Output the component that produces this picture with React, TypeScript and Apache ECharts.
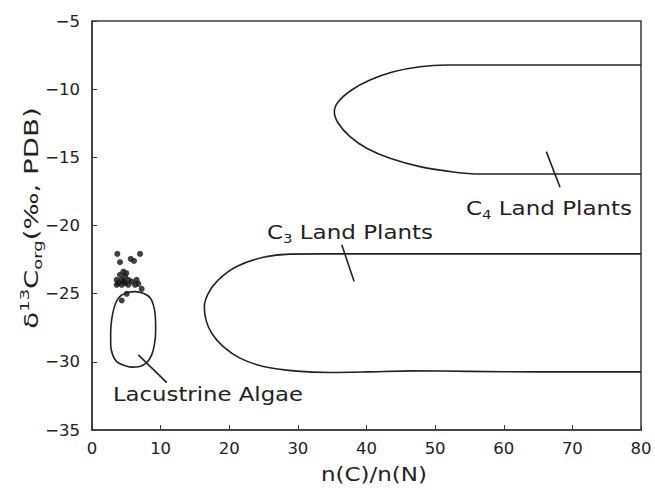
import React, { useEffect, useRef } from "react";
import * as echarts from "echarts";

// Sample points (n(C)/n(N), δ13Corg)
const algaeSamples: [number, number][] = [
  [3.69, -22.08], [4.08, -22.69], [5.64, -22.45], [6.12, -22.6], [7.0, -22.08],
  [4.57, -23.38], [4.08, -23.62], [4.81, -23.74], [3.6, -23.99], [4.33, -23.99],
  [5.3, -23.99], [3.83, -24.23], [4.81, -24.23], [5.79, -24.11], [6.5, -23.99],
  [6.27, -24.35], [4.33, -24.35], [5.3, -24.35], [3.6, -24.35], [6.75, -24.28],
  [7.24, -24.65], [5.06, -25.01], [4.33, -25.5], [5.0, -23.5], [4.6, -24.1],
];

// Field outlines
const algaeOutline: [number, number][] = [
  [5.05, -24.92], [6.27, -24.85], [7.48, -24.97], [8.45, -25.29], [8.94, -25.82],
  [9.23, -26.68], [9.28, -27.65], [9.13, -28.63], [8.7, -29.49], [7.97, -30.05],
  [6.99, -30.34], [5.78, -30.39], [4.57, -30.24], [3.59, -29.98], [3.01, -29.49],
  [2.72, -28.75], [2.72, -27.9], [2.86, -26.92], [3.21, -26.06], [3.84, -25.33],
  [5.05, -24.92],
];

const c3Outline: [number, number][] = [
  [80, -22.08], [65, -22.08], [50, -22.08], [38, -22.08], [28.85, -22.1],
  [24.97, -22.33], [21.08, -23.01], [18.41, -23.99], [16.95, -24.97], [16.37, -25.95],
  [16.61, -26.92], [17.44, -27.9], [19.13, -28.88], [21.57, -29.73], [24.97, -30.34],
  [29.83, -30.68], [34.68, -30.78], [40, -30.74], [46.8, -30.66], [55, -30.7],
  [65, -30.74], [80, -30.74],
];

const c4Outline: [number, number][] = [
  [80, -8.23], [68, -8.23], [58, -8.23], [51.69, -8.23], [47.8, -8.35],
  [43.91, -8.72], [40.51, -9.33], [37.84, -10.06], [35.89, -10.92], [35.31, -11.65],
  [35.89, -12.5], [37.6, -13.48], [40.03, -14.33], [43.42, -15.07], [47.8, -15.68],
  [52.65, -16.07], [56.54, -16.22], [64, -16.22], [72, -16.22], [80, -16.22],
];

// Leader lines
const c3Leader: [number, number][] = [[36.4, -21.42], [38.2, -24.11]];
const c4Leader: [number, number][] = [[66.2, -14.58], [68.2, -17.19]];
const algaeLeader: [number, number][] = [[6.75, -29.49], [10.9, -31.52]];

const FONT = "DejaVu Sans";
const INK = "#222";

const lineSeries = (data: [number, number][], smooth: number | boolean) => ({
  type: "line",
  data,
  showSymbol: false,
  symbol: "none",
  smooth,
  clip: true,
  lineStyle: { color: INK, width: 1.6 },
  silent: true,
});

export default function App() {
  const ref = useRef<HTMLDivElement>(null);
  useEffect(() => {
    document.body.style.margin = "0";
    const chart = echarts.init(ref.current!, undefined, { renderer: "svg" });
    const minus = (v: number) => (v < 0 ? "\u2212" + Math.abs(v) : String(v));
    chart.setOption({
      animation: false,
      backgroundColor: "#fff",
      grid: {
        left: 92, right: 14, top: 21, bottom: 60,
        show: true, borderColor: "#3a3a3a", borderWidth: 1.5,
      },
      xAxis: {
        type: "value", min: 0, max: 80, interval: 10,
        axisLine: { show: true, lineStyle: { color: "#3a3a3a", width: 1.5 } },
        axisTick: { show: true, inside: true, length: 5, lineStyle: { color: "#3a3a3a" } },
        splitLine: { show: false },
        axisLabel: { fontFamily: FONT, fontSize: 16.5, color: INK, margin: 10, formatter: minus },
      },
      yAxis: {
        type: "value", min: -35, max: -5, interval: 5,
        axisLine: { show: true, lineStyle: { color: "#3a3a3a", width: 1.5 } },
        axisTick: { show: true, inside: true, length: 5, lineStyle: { color: "#3a3a3a" } },
        splitLine: { show: false },
        axisLabel: { fontFamily: FONT, fontSize: 16.5, color: INK, margin: 12, formatter: minus },
      },
      series: [
        lineSeries(c4Outline, 0.3),
        lineSeries(c3Outline, 0.3),
        lineSeries(algaeOutline, 0.4),
        lineSeries(c3Leader, false),
        lineSeries(c4Leader, false),
        lineSeries(algaeLeader, false),
        {
          type: "scatter",
          data: algaeSamples,
          symbolSize: 6,
          itemStyle: { color: "#111" },
          silent: true,
        },
      ],
      graphic: [
        {
          type: "text", x: 208, y: 395, scaleX: 1.2,
          style: { text: "Lacustrine Algae", fontFamily: FONT, fontSize: 19, fill: INK, align: "center", verticalAlign: "middle" },
        },
        {
          type: "text", x: 350, y: 232, scaleX: 1.15,
          style: {
            text: "{a|C}{s|3}{a| Land Plants}", fontFamily: FONT, fill: INK, align: "center", verticalAlign: "middle",
            rich: {
              a: { fontFamily: FONT, fontSize: 20, lineHeight: 26, fill: INK },
              s: { fontFamily: FONT, fontSize: 13, lineHeight: 13, verticalAlign: "bottom", fill: INK },
            },
          },
        },
        {
          type: "text", x: 549, y: 208, scaleX: 1.15,
          style: {
            text: "{a|C}{s|4}{a| Land Plants}", fontFamily: FONT, fill: INK, align: "center", verticalAlign: "middle",
            rich: {
              a: { fontFamily: FONT, fontSize: 20, lineHeight: 26, fill: INK },
              s: { fontFamily: FONT, fontSize: 13, lineHeight: 13, verticalAlign: "bottom", fill: INK },
            },
          },
        },
        {
          type: "text", x: 374, y: 474, scaleX: 1.15,
          style: { text: "n(C)/n(N)", fontFamily: FONT, fontSize: 20, fill: INK, align: "center", verticalAlign: "middle" },
        },
        {
          type: "text", x: 31, y: 218, rotation: Math.PI / 2, scaleX: 1.38,
          style: {
            text: "{a|δ}{p|13}{a|C}{s|org}{a|(‰, PDB)}", fontFamily: FONT, fill: INK, align: "center", verticalAlign: "middle",
            rich: {
              a: { fontFamily: FONT, fontSize: 20, lineHeight: 26, fill: INK },
              p: { fontFamily: FONT, fontSize: 13, lineHeight: 13, verticalAlign: "top", fill: INK },
              s: { fontFamily: FONT, fontSize: 13, lineHeight: 13, verticalAlign: "bottom", fill: INK },
            },
          },
        },
      ],
    });
    return () => chart.dispose();
  }, []);
  return <div ref={ref} style={{ width: 655, height: 490 }} />;
}
